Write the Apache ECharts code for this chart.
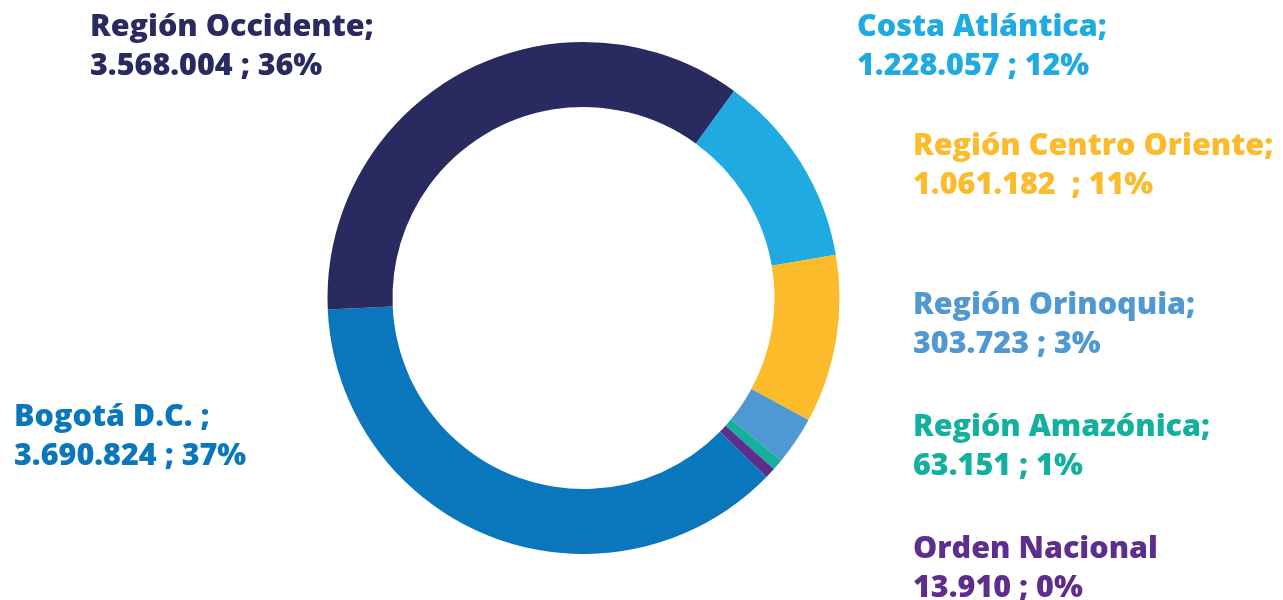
<!DOCTYPE html>
<html>
<head>
<meta charset="utf-8">
<script src="https://cdn.jsdelivr.net/npm/echarts@6/dist/echarts.min.js"></script>
<style>
html,body{margin:0;padding:0;background:#fff;}
#main{width:1283px;height:600px;}
</style>
</head>
<body>
<div id="main"></div>
<script>
// data, clockwise from the top-right
var names = ['Costa Atlántica;', 'Región Centro Oriente;', 'Región Orinoquia;', 'Región Amazónica;', 'Orden Nacional', 'Bogotá D.C. ;', 'Región Occidente;'];
var values = [1228057, 1061182, 303723, 63151, 13910, 3690824, 3568004];
var valueText = ['1.228.057 ; 12%', '1.061.182  ; 11%', '303.723 ; 3%', '63.151 ; 1%', '13.910 ; 0%', '3.690.824 ; 37%', '3.568.004 ; 36%'];
var colors = ['#1faae2', '#fcbb2a', '#4f98d1', '#14b09e', '#5d2e8c', '#0a76bc', '#282a60'];

// where each label goes (left edge, vertical middle)
var labelPos = [[857, 47], [913, 166], [913, 325], [913, 447], [913, 569], [14, 437], [90, 47]];

var myChart = echarts.init(document.getElementById('main'));

var pieData = [];
for (var i = 0; i < names.length; i++) {
    pieData.push({
        name: names[i],
        value: values[i],
        itemStyle: {color: colors[i]},
        label: {color: colors[i]}
    });
}

var option = {
    animation: false,
    series: [{
        type: 'pie',
        center: [583.5, 298],
        radius: [191, 256],
        startAngle: 54,
        minAngle: 2.5,
        avoidLabelOverlap: false,
        data: pieData,
        label: {
            show: true,
            position: 'outside',
            fontFamily: 'Open Sans',
            fontWeight: 800,
            fontSize: 30.5,
            lineHeight: 39,
            align: 'left',
            formatter: function (p) {
                return p.name + '\n' + valueText[p.dataIndex];
            }
        },
        labelLine: {show: false},
        labelLayout: function (params) {
            var p = labelPos[params.dataIndex];
            return {x: p[0], y: p[1], align: 'left', verticalAlign: 'middle'};
        },
        emphasis: {disabled: true}
    }]
};
myChart.setOption(option);
</script>
</body>
</html>
